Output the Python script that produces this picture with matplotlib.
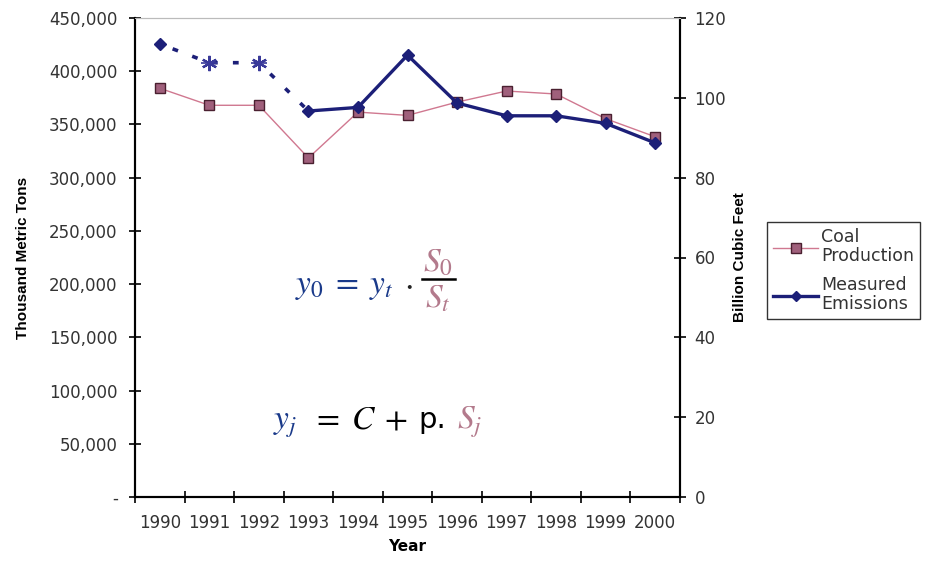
import numpy as np
import matplotlib.pyplot as plt
from matplotlib.lines import Line2D
from matplotlib.ticker import FuncFormatter

plt.rcParams["font.family"] = ["DejaVu Sans"]
plt.rcParams["mathtext.fontset"] = "stix"

YEARS = [1990, 1991, 1992, 1993, 1994, 1995, 1996, 1997, 1998, 1999, 2000]
COAL = [384000, 368000, 368000, 318500, 361600, 358500, 371000, 381400, 378600, 355400, 338400]
# measured emissions (bcf); 1991-1992 are estimates drawn as stars
EMIS_YEARS = [1990, 1993, 1994, 1995, 1996, 1997, 1998, 1999, 2000]
EMIS = [113.5, 96.7, 97.6, 110.7, 98.7, 95.5, 95.5, 93.6, 88.7]
EST_YEARS = [1991, 1992]
EST = [108.8, 108.8]

NAVY = "#1c1f78"
COAL_LINE = "#d07890"
COAL_FACE = "#a0607c"
COAL_EDGE = "#4a2030"
MAUVE = "#b37a8c"
FORMULA_BLUE = "#1a3a8a"
TXT = "#333333"

W, H = 926, 561
fig = plt.figure(figsize=(W / 100, H / 100), dpi=100)
ax = fig.add_axes([135 / W, 1 - 497 / H, (680 - 135) / W, (497 - 18) / H])
ax2 = ax.twinx()

x = np.arange(len(YEARS))
pos = {y: i for i, y in enumerate(YEARS)}

ax.plot(x, COAL, color=COAL_LINE, lw=1.0, marker="s", ms=7,
        mfc=COAL_FACE, mec=COAL_EDGE, mew=1.0, zorder=3)

ex = [pos[y] for y in EMIS_YEARS]
ax2.plot(ex[1:], EMIS[1:], color=NAVY, lw=2.4, marker="D", ms=6.5,
         mfc=NAVY, mec=NAVY, zorder=4)
ax2.plot(ex[:1], EMIS[:1], ls="none", marker="D", ms=6.5, color=NAVY, zorder=4)
dash_x = [pos[1990]] + [pos[y] for y in EST_YEARS] + [pos[1993]]
dash_y = [EMIS[0]] + EST + [EMIS[1]]
ax2.plot(dash_x, dash_y, color=NAVY, lw=2.6, ls=(2, (1.6, 4.2)),
         dash_capstyle="butt", zorder=3)
ax2.plot([pos[y] for y in EST_YEARS], EST, ls="none", marker=(6, 2, 0),
         ms=11, mew=1.6, color="#3a3a9a", zorder=4)
ax2.plot([pos[y] for y in EST_YEARS], EST, ls="none", marker="_",
         ms=11, mew=1.2, color="#3a3a9a", zorder=4)

ax.set_xlim(-0.5, len(YEARS) - 0.5)
ax.set_ylim(0, 450000)
ax2.set_ylim(0, 120)
ax.set_yticks(np.arange(0, 450001, 50000))
ax2.set_yticks(np.arange(0, 121, 20))
ax.yaxis.set_major_formatter(FuncFormatter(lambda v, p: "-" if v == 0 else f"{int(v):,}"))
ax.set_xticks(np.arange(-0.5, len(YEARS), 1))
ax.set_xticklabels([])
ax.set_xticks(x, minor=True)
ax.set_xticklabels([str(y) for y in YEARS], minor=True)
ax.tick_params(axis="x", which="major", direction="inout", length=9, width=1.2)
ax.tick_params(axis="x", which="minor", length=0, pad=12, labelsize=12, labelcolor=TXT)
ax.tick_params(axis="y", direction="inout", length=9, width=1.2, labelsize=12,
               labelcolor=TXT, pad=8)
ax2.tick_params(axis="y", direction="inout", length=9, width=1.2, labelsize=12,
                labelcolor=TXT, pad=6)

for a in (ax, ax2):
    a.spines["top"].set_color("#bbbbbb")
    a.spines["top"].set_linewidth(0.8)
    for s in ("left", "right", "bottom"):
        a.spines[s].set_linewidth(1.5)

ax.set_ylabel("Thousand Metric Tons", fontsize=11, fontweight="bold",
              family="Liberation Sans", labelpad=14)
ax2.set_ylabel("Billion Cubic Feet", fontsize=11, fontweight="bold",
               family="Liberation Sans", labelpad=5)
ax.set_xlabel("Year", fontsize=11, fontweight="bold", labelpad=5)

handles = [
    Line2D([], [], color=COAL_LINE, lw=1.0, marker="s", ms=7, mfc=COAL_FACE, mec=COAL_EDGE),
    Line2D([], [], color=NAVY, lw=2.4, marker="D", ms=5.5, mfc=NAVY, mec=NAVY),
]
leg = fig.legend(handles, ["Coal\nProduction", "Measured\nEmissions"],
                 loc="upper left", bbox_to_anchor=(767 / W, 1 - 222 / H),
                 fontsize=12.5, frameon=True, fancybox=False, handlelength=2.6,
                 handletextpad=0.15, borderpad=0.35, labelspacing=0.6,
                 borderaxespad=0)
leg.get_frame().set_edgecolor("black")
leg.get_frame().set_linewidth(1.0)
for t in leg.get_texts():
    t.set_color(TXT)
    t.set_linespacing(1.1)


def ftext(px, py, s, color, size=24, **kw):
    fig.text(px / W, 1 - py / H, s, color=color, fontsize=size,
             va="baseline", ha="left", **kw)


# formula 1
ftext(295, 293, r"$y_0\;=\;y_t$", FORMULA_BLUE)
ftext(404, 293, r"$\cdot$", "#222222")
fig.text(438 / W, 1 - 271 / H, r"$S_0$", color=MAUVE, fontsize=24, ha="center", va="baseline")
fig.text(438 / W, 1 - 307 / H, r"$S_t$", color=MAUVE, fontsize=24, ha="center", va="baseline")
fig.add_artist(Line2D([422 / W, 455 / W], [1 - 279 / H, 1 - 279 / H],
                      color="black", lw=1.8, transform=fig.transFigure))

# formula 2
ftext(273, 428, r"$y_j$", FORMULA_BLUE)
ftext(312, 428, r"$=\;C\;+$", "black")
ftext(418, 428, "p.", "black", size=21)
ftext(457, 428, r"$S_j$", MAUVE)

fig.savefig("out.png", dpi=100)
